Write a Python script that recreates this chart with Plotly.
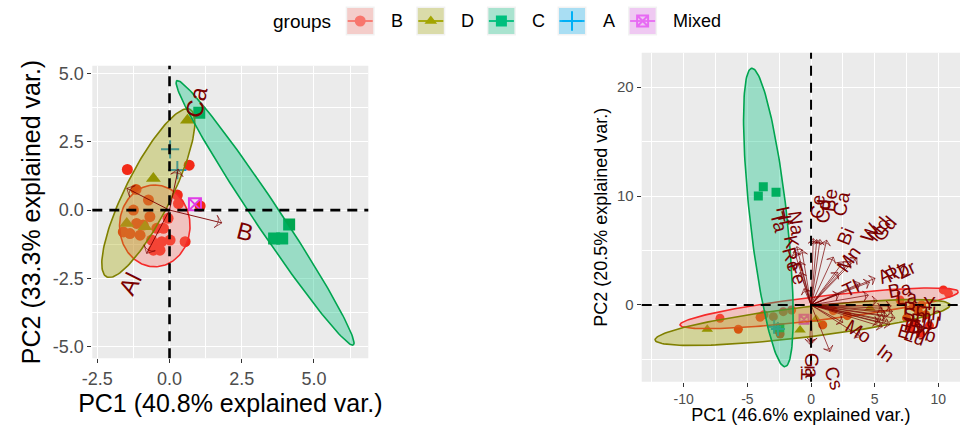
import numpy as np
import plotly.graph_objects as go

FONT = "Liberation Sans, Arial, sans-serif"
W, H = 963, 425

# ---------------- groups / styles ----------------
groups = ["B", "D", "C", "A", "Mixed"]
key_colors = {"B": "#F8766D", "D": "#A3A500", "C": "#00BF7D", "A": "#00B0F6", "Mixed": "#E76BF3"}
key_rgb = {"B": (248, 118, 109), "D": (163, 165, 0), "C": (0, 191, 125), "A": (0, 176, 246), "Mixed": (231, 107, 243)}
point_colors = {"B": "#F22A18", "D": "#8C8C00", "C": "#00A64F", "A": "#1B8FD8", "Mixed": "#E03CE6"}
ell_line = {"B": "#F52A2A", "D": "#808000", "C": "#00A550"}
symbols = {"B": "circle", "D": "triangle-up", "C": "square", "A": "cross-thin", "Mixed": "square-x-open"}

# ---------------- left biplot data ----------------
left_B_x = [-1.46, 0.68, -1.16, -0.73, 0.27, 0.31, 1.06, -1.60, -1.14, -0.91, -0.68, -1.02,
            -1.37, -0.44, -0.21, -0.62, -0.44, -0.27, -0.56, 0.02, 0.54, -1.25, -0.33, -0.05]
left_B_y = [1.49, 1.65, 0.76, 0.37, 0.55, 0.24, 0.15, -0.80, -0.49, -0.55, -0.24, -0.92,
            -0.86, -0.67, -0.67, -1.10, -1.28, -1.16, -1.47, -1.10, -1.16, 0.00, -1.47, -0.30]
left_D_x = [-0.56, -1.48, -0.85, 0.62]
left_D_y = [1.16, -0.49, -0.61, 3.30]
left_C_x = [1.03, 4.14, 3.62, 3.90]
left_C_y = [3.57, -0.53, -1.04, -1.04]
left_A_x = [0.02, 0.27]
left_A_y = [2.23, 1.47]
left_M_x = [0.88]
left_M_y = [0.21]

# ellipse parameters: centre, semi-major vector, semi-minor vector
left_ell = {
    "B": (-0.51, -0.58, 0.0, 1.50, 1.22, 0.0),
    "D": (-0.734, 0.624, 1.444, 3.072, 0.713, -0.378),
    "C": (3.307, -0.103, 3.057, -4.851, 0.374, 0.264),
}

left_var_names = ["B", "Al", "Ca", "Sc"]
left_var_x = [1.81, -0.79, 0.30, -1.48]
left_var_y = [-0.47, -1.59, 1.50, 0.80]
left_lab_x = [2.61, -1.37, 0.92, None]
left_lab_y = [-0.80, -2.69, 3.95, None]

# ---------------- right biplot data ----------------
right_B_x = [-7.15, -5.71, -4.0, -2.96, -2.18, -1.52, -2.43, 0.92, 1.75, 2.85, 8.43, 8.69,
             10.39, 10.79, 8.04, 6.99, 7.5, 8.2, 9.0, 7.8, 8.6, 9.3, -3.7, -2.6]
right_B_y = [-1.22, -2.23, -1.13, -1.07, -0.61, -0.46, -2.66, -1.83, -0.52, -0.98, -0.61, 0.0,
             1.38, 1.07, -0.15, 0.46, -1.2, -1.6, -0.9, -2.1, -2.6, -1.9, -0.9, -2.3]
right_D_x = [-8.15, -0.86, 0.39, 4.63]
right_D_y = [-2.23, -2.29, -1.31, -0.31]
right_C_x = [-4.14, -3.75, -2.75, -2.45]
right_C_y = [10.0, 10.86, 10.34, -2.1]
right_A_x = [-2.9, -2.6]
right_A_y = [-2.0, -2.2]
right_M_x = [-0.55]
right_M_y = [-1.31]

right_ell = {
    "B": (0.64, -0.305, 10.93, 1.525, 0.11, -1.08),
    "D": (-0.665, -1.605, 11.585, 1.605, 0.139, -1.37),
    "C": (-3.35, 8.03, 1.31, -13.69, 1.445, 0.188),
}

right_var_names = ["Ce", "Cd", "Be", "Ca", "Bi", "Mn", "W", "Nd", "Gd", "Al", "Rb", "Zr", "Ba", "Tl",
                   "La", "Pr", "Y", "Sm", "Th", "Eu", "U", "Tb", "Dy", "Er", "Yb", "Lu", "Mo", "In",
                   "Cs", "Ga", "Ti", "Hf", "Ta", "Na", "K", "Re", "Fe"]
right_var_x = [0.18, 0.45, 0.71, 1.23, 1.75, 2.1, 2.54, 3.1, 3.6, 3.85, 4.6, 5.03, 4.5, 2.2,
               5.2, 5.6, 6.3, 5.8, 6.4, 6.0, 6.6, 5.5, 5.9, 5.3, 6.2, 5.6, 2.5, 3.9,
               1.49, 0.1, -0.1, -1.12, -1.3, -0.73, -0.9, -0.86, -0.55]
right_var_y = [6.1, 6.0, 6.0, 5.95, 4.4, 3.0, 3.97, 4.0, 4.35, 1.99, 2.1, 2.45, 0.9, 1.0,
               0.4, -0.3, -0.1, -0.7, -0.6, -1.0, -1.2, -1.3, -1.5, -1.6, -1.8, -2.0, -1.6, -2.9,
               -4.28, -3.5, -3.6, 5.35, 4.9, 5.05, 4.0, 3.0, 1.5]
right_lab_x = [0.55, 0.95, 1.45, 2.4, 2.7, 2.95, 4.6, 5.3, 5.8, 5.95, 6.75, 7.5, 7.0, 3.1,
               7.5, 8.0, 9.3, 8.4, 9.4, 8.7, 9.6, 7.9, 8.5, 7.6, 8.9, 8.1, 3.72, 5.9,
               1.75, 0.1, -0.25, -2.1, -2.5, -1.15, -1.55, -1.5, -1.1]
right_lab_y = [9.0, 8.6, 9.6, 9.3, 6.3, 4.15, 6.6, 6.9, 7.0, 2.8, 3.0, 3.3, 1.4, 1.5,
               0.7, -0.3, 0.1, -1.0, -0.8, -1.5, -1.6, -1.9, -2.2, -2.5, -2.6, -2.9, -2.45, -4.43,
               -6.7, -5.6, -6.2, 8.1, 7.6, 7.5, 5.8, 4.2, 2.9]

# axis tick labels
left_xticks = [-2.5, 0.0, 2.5, 5.0]
left_xticktext = ["-2.5", "0.0", "2.5", "5.0"]
left_yticks = [-5.0, -2.5, 0.0, 2.5, 5.0]
left_yticktext = ["-5.0", "-2.5", "0.0", "2.5", "5.0"]
right_xticks = [-10, -5, 0, 5, 10]
right_xticktext = ["-10", "-5", "0", "5", "10"]
right_yticks = [0, 10, 20]
right_yticktext = ["0", "10", "20"]

LABEL_COL = "#7A0000"
ARROW_COL = "#7A0000"


def ellipse(p, n=160):
    cx, cy, ax, ay, bx, by = p
    t = np.linspace(0, 2 * np.pi, n)
    return cx + ax * np.cos(t) + bx * np.sin(t), cy + ay * np.cos(t) + by * np.sin(t)


def rgba(g, a):
    r, gg, b = key_rgb[g]
    return f"rgba({r},{gg},{b},{a})"


fig = go.Figure()


def add_panel(xa, ya, pts, ells, sizes, vnames, vx, vy, lx, ly, lab_size, arrow_w, head):
    for g, (xs, ys) in pts.items():
        fig.add_trace(go.Scatter(
            x=xs, y=ys, mode="markers", xaxis=xa, yaxis=ya, showlegend=False, hoverinfo="skip",
            marker=dict(symbol=symbols[g], size=sizes[g], color=point_colors[g],
                        line=dict(width=2 if g in ("A", "Mixed") else 0, color=point_colors[g]))))
    for g, p in ells.items():
        ex, ey = ellipse(p)
        fig.add_trace(go.Scatter(
            x=ex, y=ey, mode="lines", fill="toself", fillcolor=rgba(g, 0.35),
            line=dict(color=ell_line[g], width=1.6), xaxis=xa, yaxis=ya,
            showlegend=False, hoverinfo="skip"))
    for name, ax_, ay_ in zip(vnames, vx, vy):
        fig.add_trace(go.Scatter(
            x=[0, ax_], y=[0, ay_], mode="lines+markers", xaxis=xa, yaxis=ya,
            line=dict(color=ARROW_COL, width=arrow_w), showlegend=False, hoverinfo="skip",
            marker=dict(symbol="arrow-wide-open", angleref="previous", size=[0, head],
                        color=ARROW_COL, line=dict(color=ARROW_COL, width=0.9))))
    for name, ax_, ay_, lx_, ly_ in zip(vnames, vx, vy, lx, ly):
        if lx_ is None:
            continue
        ang = -np.degrees(np.arctan(ay_ / ax_))
        fig.add_annotation(x=lx_, y=ly_, xref=xa, yref=ya, text=name, showarrow=False,
                           textangle=ang, font=dict(family=FONT, size=lab_size, color=LABEL_COL))


add_panel("x", "y",
          {"B": (left_B_x, left_B_y), "D": (left_D_x, left_D_y), "C": (left_C_x, left_C_y),
           "A": (left_A_x, left_A_y), "Mixed": (left_M_x, left_M_y)},
          left_ell, {"B": 11, "D": 13, "C": 12, "A": 13, "Mixed": 12},
          left_var_names, left_var_x, left_var_y, left_lab_x, left_lab_y, 24, 0.9, 9)
add_panel("x2", "y2",
          {"B": (right_B_x, right_B_y), "D": (right_D_x, right_D_y), "C": (right_C_x, right_C_y),
           "A": (right_A_x, right_A_y), "Mixed": (right_M_x, right_M_y)},
          right_ell, {"B": 9, "D": 10, "C": 9, "A": 10, "Mixed": 9},
          right_var_names, right_var_x, right_var_y, right_lab_x, right_lab_y, 19, 0.7, 7)

# ---------------- legend (drawn on an overlay axis in pixel units) ----------------
key_x0, key_pitch, key_size, key_y0 = 345.7, 70.6, 29, 6.5
for i, g in enumerate(groups):
    x0 = key_x0 + i * key_pitch
    fig.add_shape(type="rect", xref="x3", yref="y3", x0=x0, x1=x0 + key_size, y0=key_y0,
                  y1=key_y0 + key_size, fillcolor="#F2F2F2", line=dict(width=0), layer="below")
    fig.add_shape(type="rect", xref="x3", yref="y3", x0=x0 + 1.5, x1=x0 + key_size - 1.5,
                  y0=key_y0 + 1.5, y1=key_y0 + key_size - 1.5, fillcolor=rgba(g, 0.3),
                  line=dict(width=0), layer="below")
    cy = key_y0 + key_size / 2
    fig.add_trace(go.Scatter(x=[x0 + 2, x0 + key_size - 2], y=[cy, cy], mode="lines", xaxis="x3", yaxis="y3",
                             line=dict(color=key_colors[g], width=1.8), showlegend=False, hoverinfo="skip"))
    fig.add_trace(go.Scatter(x=[x0 + key_size / 2], y=[cy], mode="markers", xaxis="x3", yaxis="y3",
                             marker=dict(symbol=symbols[g], size=11 if g != "A" else 14, color=key_colors[g],
                                         line=dict(width=2 if g in ("A", "Mixed") else 0, color=key_colors[g])),
                             showlegend=False, hoverinfo="skip"))
    fig.add_annotation(x=x0 + key_size + 14, y=cy, xref="x3", yref="y3", text=g, showarrow=False,
                       xanchor="left", yanchor="middle", font=dict(family=FONT, size=18, color="black"))
fig.add_annotation(x=333, y=key_y0 + key_size / 2, xref="x3", yref="y3", text="groups", showarrow=False,
                   xanchor="right", yanchor="middle", font=dict(family=FONT, size=19, color="black"))

# ---------------- panel backgrounds + dashed zero lines ----------------
for xa, ya in (("x", "y"), ("x2", "y2")):
    fig.add_shape(type="rect", xref=f"{xa} domain", yref=f"{ya} domain", x0=0, x1=1, y0=0, y1=1,
                  fillcolor="#EBEBEB", line=dict(width=0), layer="below")
for xa, ya, w in (("x", "y", 2.6), ("x2", "y2", 2.0)):
    fig.add_shape(type="line", xref=xa, yref=f"{ya} domain", x0=0, x1=0, y0=0, y1=1,
                  line=dict(color="black", width=w, dash="10px,7px"), layer="above")
    fig.add_shape(type="line", xref=f"{xa} domain", yref=ya, x0=0, x1=1, y0=0, y1=0,
                  line=dict(color="black", width=w, dash="10px,7px"), layer="above")


def axis(domain, rng, tv, tt, minor_dt, tick_size, title, title_size, standoff, anchor):
    return dict(domain=domain, range=rng, tickmode="array", tickvals=tv, ticktext=tt,
                ticks="outside", ticklen=4, tickwidth=1, tickcolor="#333333",
                tickfont=dict(family=FONT, size=tick_size, color="#4D4D4D"),
                showgrid=True, gridcolor="white", gridwidth=1.2, zeroline=False, showline=False,
                minor=dict(tickmode="linear", tick0=0, dtick=minor_dt, showgrid=True,
                           gridcolor="white", gridwidth=0.6),
                title=dict(text=title, font=dict(family=FONT, size=title_size, color="black"),
                           standoff=standoff),
                anchor=anchor, fixedrange=True, automargin=False)


fig.update_layout(
    width=W, height=H, margin=dict(l=0, r=0, t=0, b=0, autoexpand=False),
    paper_bgcolor="white", plot_bgcolor="rgba(0,0,0,0)", showlegend=False,
    xaxis=axis([92.3 / W, 368.3 / W], [-2.673, 6.88], left_xticks, left_xticktext, 1.25, 18,
               "PC1 (40.8% explained var.)", 25, 4, "y"),
    yaxis=axis([1 - 358.3 / H, 1 - 65.7 / H], [-5.44, 5.30], left_yticks, left_yticktext, 1.25, 18,
               "PC2 (33.3% explained var.)", 25, 4, "x"),
    xaxis2=axis([641.7 / W, 960 / W], [-13.3, 11.7], right_xticks, right_xticktext, 2.5, 14,
                "PC1 (46.6% explained var.)", 18, 5, "y2"),
    yaxis2=axis([1 - 381.7 / H, 1 - 52.7 / H], [-7.04, 23.15], right_yticks, right_yticktext, 5, 15,
                "PC2 (20.5% explained var.)", 18, 4, "x2"),
    xaxis3=dict(domain=[0, 1], range=[0, W], visible=False, fixedrange=True, anchor="y3"),
    yaxis3=dict(domain=[0, 1], range=[H, 0], visible=False, fixedrange=True, anchor="x3"),
)

fig.write_html("out.html")
